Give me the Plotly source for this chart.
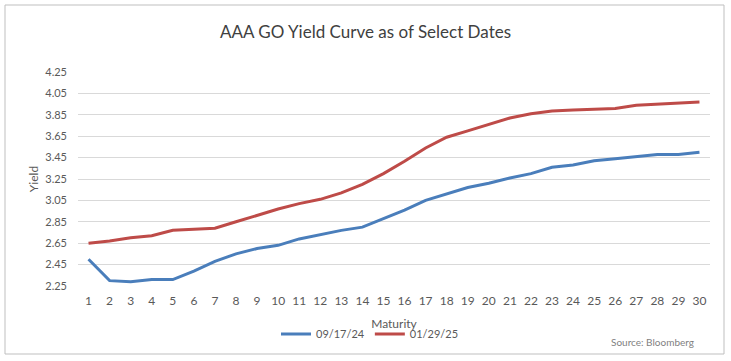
import plotly.graph_objects as go

maturity = list(range(1, 31))
yield_091724 = [2.50, 2.30, 2.29, 2.31, 2.31, 2.39, 2.48, 2.55, 2.60, 2.63,
                2.69, 2.73, 2.77, 2.80, 2.88, 2.96, 3.05, 3.11, 3.17, 3.21,
                3.26, 3.30, 3.36, 3.38, 3.42, 3.44, 3.46, 3.48, 3.48, 3.50]
yield_012925 = [2.65, 2.67, 2.70, 2.72, 2.77, 2.78, 2.79, 2.85, 2.91, 2.97,
                3.02, 3.06, 3.12, 3.20, 3.30, 3.415, 3.54, 3.64, 3.70, 3.76,
                3.82, 3.86, 3.885, 3.895, 3.90, 3.91, 3.94, 3.95, 3.96, 3.97]
y_ticks = [2.25, 2.45, 2.65, 2.85, 3.05, 3.25, 3.45, 3.65, 3.85, 4.05, 4.25]

W, H = 731, 361
L, R, T, B = 78, 21, 72, 75
pw, ph = W - L - R, H - T - B

def px_x(x):
    return (x - L) / pw

def px_y(y):
    return (H - B - y) / ph

fig = go.Figure()
fig.add_trace(go.Scatter(x=maturity, y=yield_091724, mode="lines", name="09/17/24",
                         line=dict(color="#4A7EBB", width=3)))
fig.add_trace(go.Scatter(x=maturity, y=yield_012925, mode="lines", name="01/29/25",
                         line=dict(color="#BE4B48", width=3)))

font_family = "Lato, 'Open Sans', sans-serif"
fig.update_layout(
    width=W, height=H,
    margin=dict(l=L, r=R, t=T, b=B, autoexpand=False),
    paper_bgcolor="white", plot_bgcolor="white",
    font=dict(family=font_family, color="#595959", size=12),
    title=dict(text="AAA GO Yield Curve as of Select Dates", x=0.5, xanchor="center",
               y=1 - 32 / H, yanchor="middle",
               font=dict(size=17, color="#404040", family=font_family)),
    xaxis=dict(range=[0.5, 30.5], tickmode="array", tickvals=maturity,
               ticktext=[str(m) for m in maturity], showgrid=False, zeroline=False,
               showline=False, ticks="", ticklen=0, ticklabelstandoff=6,
               title=dict(text="Maturity", font=dict(size=12, color="#595959"), standoff=12),
               tickfont=dict(size=12, color="#595959")),
    yaxis=dict(range=[2.25, 4.25], tickmode="array", tickvals=y_ticks,
               ticktext=[f"{v:.2f}" for v in y_ticks],
               showgrid=True, gridcolor="#D9D9D9", gridwidth=1, zeroline=False,
               showline=False, ticks="", ticklabelstandoff=10,
               title=dict(text="Yield", font=dict(size=12, color="#595959"), standoff=4),
               tickfont=dict(size=11, color="#595959")),
    legend=dict(orientation="h", x=px_x(276), xanchor="left", y=px_y(334), yanchor="middle",
                font=dict(size=11, color="#595959"), itemwidth=30, tracegroupgap=0,
                bgcolor="rgba(0,0,0,0)"),
    showlegend=True,
)

fig.add_shape(type="rect", xref="paper", yref="paper",
              x0=px_x(5), x1=px_x(724), y0=px_y(354), y1=px_y(5),
              line=dict(color="#BFBFBF", width=1), fillcolor="rgba(0,0,0,0)", layer="below")

fig.add_annotation(text="Source: Bloomberg", xref="paper", yref="paper",
                   x=px_x(696), y=px_y(342), xanchor="right", yanchor="middle",
                   showarrow=False, font=dict(size=10, color="#7F7F7F", family=font_family))

fig.write_html("out.html", config={"displayModeBar": False},
               post_script="document.body.style.margin='0';")
